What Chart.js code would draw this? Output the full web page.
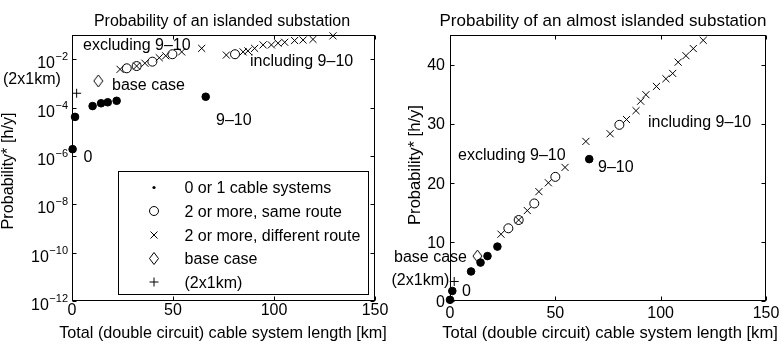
<!DOCTYPE html>
<html lang="en">
<head>
  <meta charset="UTF-8">
  <title>Probability of an (almost) islanded substation</title>
  <script src="https://cdn.jsdelivr.net/npm/chart.js"></script>
  <style>
    body { margin: 0; background: #fff; }
    .panel { position: absolute; top: 0; height: 346px; }
  </style>
</head>
<body>
<div class="panel" style="left:0;width:390px"><canvas id="islandedChart" width="390" height="346"></canvas></div>
<div class="panel" style="left:390px;width:391px"><canvas id="almostChart" width="391" height="346"></canvas></div>

<script>
  // axis ticks
  const xTicks = [0, 50, 100, 150];
  const logTickExps = [-12, -10, -8, -6, -4, -2];
  const linTicks = [0, 10, 20, 30, 40];

  // legend entries
  const seriesNames = ['0 or 1 cable systems', '2 or more, same route', '2 or more, different route', 'base case', '(2x1km)'];

  // left plot: probability of an islanded substation [h/y]
  const islOneKm = [0.3, 1.5, 10.2, 14.4, 17.7, 22.1, 66.2];
  const islOneP = [1.9e-6, 4.1e-5, 1.15e-4, 1.5e-4, 1.65e-4, 1.9e-4, 2.8e-4];
  const islSameKm = [27.1, 32, 39.8, 49.7, 80.7];
  const islSameP = [4.2e-3, 5.2e-3, 7.9e-3, 1.6e-2, 1.6e-2];
  const islDiffKm = [23.8, 32, 36.1, 43.2, 46.4, 54.3, 64.2, 76.4, 84.7, 87.1, 90.4, 94.6, 98.7, 102, 105.3, 110.2, 114.4, 119.3, 129.2];
  const islDiffP = [3.8e-3, 5.2e-3, 6.8e-3, 1.15e-2, 1.38e-2, 2.0e-2, 2.8e-2, 1.48e-2, 2.0e-2, 2.2e-2, 2.8e-2, 3.9e-2, 3.9e-2, 4.6e-2, 5.0e-2, 5.9e-2, 6.2e-2, 6.6e-2, 9.2e-2];
  const islBaseKm = [13];
  const islBaseP = [1.26e-3];
  const islShortKm = [2.3];
  const islShortP = [3.9e-4];

  // right plot: probability of an almost islanded substation [h/y]
  const almOneKm = [0, 1.1, 10, 14.5, 17.8, 22.5, 66.1];
  const almOneP = [0.2, 1.7, 5.0, 6.5, 7.6, 9.2, 24.0];
  const almSameKm = [27.7, 32.6, 40, 50, 80.4];
  const almSameP = [12.3, 13.7, 16.5, 21.0, 29.8];
  const almDiffKm = [24.2, 32.6, 36.7, 42.2, 46.7, 54.6, 64.5, 76, 83.8, 88.3, 90.5, 93, 98, 102.5, 105.7, 108.3, 112, 115.5, 120.2];
  const almDiffP = [11.3, 13.7, 15.3, 18.5, 20.0, 22.6, 27.0, 28.3, 30.7, 32.2, 33.8, 34.9, 36.3, 37.6, 38.5, 40.4, 41.5, 42.7, 44.1];
  const almBaseKm = [13];
  const almBaseP = [7.6];
  const almShortKm = [2];
  const almShortP = [3.3];

  const FONT = "'Liberation Sans', Arial, Helvetica, sans-serif";
  const TICK = 4;

  // MATLAB-like diamond is a bit taller than wide
  function diamondImage(w, h) {
    const c = document.createElement('canvas');
    c.width = w + 2;
    c.height = h + 2;
    const g = c.getContext('2d');
    g.strokeStyle = '#000';
    g.lineWidth = 1;
    g.beginPath();
    g.moveTo(c.width / 2, 1);
    g.lineTo(c.width - 1, c.height / 2);
    g.lineTo(c.width / 2, c.height - 1);
    g.lineTo(1, c.height / 2);
    g.closePath();
    g.stroke();
    return c;
  }
  const diamond = diamondImage(9, 12);

  const zip = (xs, ys) => xs.map((x, i) => ({ x: x, y: ys[i] }));

  function makeDatasets(one, same, diff, base, short) {
    const common = { showLine: false, borderColor: '#000', borderWidth: 1, clip: false };
    return [
      { ...common, label: seriesNames[0], data: one, pointStyle: 'circle', pointRadius: 3.8, backgroundColor: '#000' },
      { ...common, label: seriesNames[1], data: same, pointStyle: 'circle', pointRadius: 4.5, backgroundColor: 'rgba(0,0,0,0)' },
      { ...common, label: seriesNames[2], data: diff, pointStyle: 'crossRot', pointRadius: 5, backgroundColor: 'rgba(0,0,0,0)' },
      { ...common, label: seriesNames[3], data: base, pointStyle: diamond, pointRadius: 6, backgroundColor: 'rgba(0,0,0,0)' },
      { ...common, label: seriesNames[4], data: short, pointStyle: 'cross', pointRadius: 4.5, backgroundColor: 'rgba(0,0,0,0)' }
    ];
  }

  function text(ctx, str, x, y, align, size) {
    ctx.font = (size || 16) + 'px ' + FONT;
    ctx.textAlign = align || 'left';
    ctx.textBaseline = 'alphabetic';
    ctx.fillText(str, x, y);
  }

  function legendMarker(ctx, i, x, y) {
    ctx.beginPath();
    if (i === 0) {
      ctx.arc(x, y, 1.6, 0, 2 * Math.PI);
      ctx.fill();
      return;
    }
    if (i === 1) {
      ctx.arc(x, y, 4.5, 0, 2 * Math.PI);
    } else if (i === 2) {
      ctx.moveTo(x - 3.5, y - 3.5); ctx.lineTo(x + 3.5, y + 3.5);
      ctx.moveTo(x + 3.5, y - 3.5); ctx.lineTo(x - 3.5, y + 3.5);
    } else if (i === 3) {
      ctx.moveTo(x, y - 6); ctx.lineTo(x + 4.5, y); ctx.lineTo(x, y + 6); ctx.lineTo(x - 4.5, y); ctx.closePath();
    } else {
      ctx.moveTo(x - 4.5, y); ctx.lineTo(x + 4.5, y);
      ctx.moveTo(x, y - 4.5); ctx.lineTo(x, y + 4.5);
    }
    ctx.stroke();
  }

  // box, inward ticks, labels, annotations and legend
  const decor = {
    id: 'decor',
    beforeDatasetsDraw(chart, args, o) {
      const ctx = chart.ctx, a = chart.chartArea;
      const xs = chart.scales.x, ys = chart.scales.y;
      const L = Math.round(a.left) + 0.5, R = Math.round(a.right) - 0.5;
      const T = Math.round(a.top) + 0.5, B = Math.round(a.bottom) - 0.5;
      ctx.save();
      ctx.strokeStyle = '#000';
      ctx.lineWidth = 1;
      ctx.strokeRect(L, T, R - L, B - T);
      ctx.beginPath();
      xTicks.forEach(v => {
        const px = Math.round(xs.getPixelForValue(v)) + 0.5;
        ctx.moveTo(px, B); ctx.lineTo(px, B - TICK);
        ctx.moveTo(px, T); ctx.lineTo(px, T + TICK);
      });
      o.yTicks.forEach(v => {
        const py = Math.round(ys.getPixelForValue(v)) + 0.5;
        ctx.moveTo(L, py); ctx.lineTo(L + TICK, py);
        ctx.moveTo(R, py); ctx.lineTo(R - TICK, py);
      });
      ctx.stroke();
      ctx.restore();
    },
    afterDraw(chart, args, o) {
      const ctx = chart.ctx, a = chart.chartArea;
      const xs = chart.scales.x, ys = chart.scales.y;
      ctx.save();
      ctx.fillStyle = '#000';
      ctx.strokeStyle = '#000';
      ctx.lineWidth = 1;

      // x tick labels
      xTicks.forEach(v => text(ctx, String(v), xs.getPixelForValue(v), o.xLabelY, 'center'));

      // y tick labels
      if (o.log) {
        logTickExps.forEach(e => {
          const py = ys.getPixelForValue(Math.pow(10, e));
          const exp = '\u2212' + Math.abs(e);
          ctx.font = '11px ' + FONT;
          const we = ctx.measureText(exp).width;
          const xEnd = a.left - 4;
          text(ctx, exp, xEnd - we, py + 1, 'left', 11);
          text(ctx, '10', xEnd - we - 0.5, py + 9, 'right');
        });
      } else {
        o.yTicks.forEach(v => text(ctx, String(v), a.left - 5, ys.getPixelForValue(v) + 5.75, 'right'));
      }

      // titles
      text(ctx, o.title, o.titleX, 26, 'center', o.titleSize);
      text(ctx, 'Total (double circuit) cable system length [km]', o.xTitleX, 338, 'center', o.axisTitleSize);
      ctx.save();
      ctx.translate(o.yTitleX, o.yTitleY);
      ctx.rotate(-Math.PI / 2);
      text(ctx, 'Probability* [h/y]', 0, 0, 'center', o.axisTitleSize);
      ctx.restore();

      // annotations
      o.notes.forEach(n => text(ctx, n[0], n[1], n[2], 'left'));

      // legend
      if (o.legend) {
        ctx.fillStyle = '#fff';
        ctx.fillRect(118.5, 171.5, 250, 123);
        ctx.strokeRect(118.5, 171.5, 250, 123);
        ctx.fillStyle = '#000';
        const rows = [193, 216.5, 240.5, 264, 287.5];
        seriesNames.forEach((name, i) => {
          legendMarker(ctx, i, 154, rows[i] - 5.5);
          text(ctx, name, 184.5, rows[i], 'left');
        });
      }
      ctx.restore();
    }
  };

  function buildChart(id, datasets, yScale, leftWidth, decorOpts) {
    return new Chart(document.getElementById(id), {
      type: 'scatter',
      data: { datasets: datasets },
      options: {
        responsive: false,
        animation: false,
        events: [],
        layout: { padding: { left: 0, right: 15, top: 35, bottom: 0 } },
        plugins: {
          legend: { display: false },
          tooltip: { enabled: false },
          decor: decorOpts
        },
        scales: {
          x: {
            type: 'linear', min: 0, max: 150,
            grid: { display: false }, border: { display: false }, ticks: { display: false },
            afterBuildTicks: s => { s.ticks = xTicks.map(v => ({ value: v })); },
            afterFit: s => { s.height = 45; }
          },
          y: Object.assign({
            grid: { display: false }, border: { display: false }, ticks: { display: false },
            afterFit: s => { s.width = leftWidth; }
          }, yScale)
        }
      },
      plugins: [decor]
    });
  }

  buildChart('islandedChart',
    makeDatasets(zip(islOneKm, islOneP), zip(islSameKm, islSameP), zip(islDiffKm, islDiffP), zip(islBaseKm, islBaseP), zip(islShortKm, islShortP)),
    { type: 'logarithmic', min: 1e-12, max: 1e-1 },
    72,
    {
      log: true,
      yTicks: logTickExps.map(e => Math.pow(10, e)),
      xLabelY: 315,
      title: 'Probability of an islanded substation',
      titleX: 222,
      titleSize: 16,
      axisTitleSize: 16.2,
      xTitleX: 223,
      yTitleX: 13,
      yTitleY: 171,
      legend: true,
      notes: [
        ['excluding 9\u201310', 83, 50],
        ['including 9\u201310', 250, 66],
        ['(2x1km)', 3, 84],
        ['base case', 112, 90],
        ['9\u201310', 216, 125],
        ['0', 83.5, 162]
      ]
    });

  buildChart('almostChart',
    makeDatasets(zip(almOneKm, almOneP), zip(almSameKm, almSameP), zip(almDiffKm, almDiffP), zip(almBaseKm, almBaseP), zip(almShortKm, almShortP)),
    { type: 'linear', min: 0, max: 45 },
    60,
    {
      log: false,
      yTicks: linTicks,
      xLabelY: 318,
      title: 'Probability of an almost islanded substation',
      titleX: 213,
      titleSize: 17,
      axisTitleSize: 16.6,
      xTitleX: 220,
      yTitleX: 29.5,
      yTitleY: 165,
      legend: false,
      notes: [
        ['including 9\u201310', 258, 126.5],
        ['excluding 9\u201310', 68, 160],
        ['9\u201310', 208, 171.5],
        ['base case', 4, 261.5],
        ['(2x1km)', 1.5, 285],
        ['0', 72, 296]
      ]
    });
</script>
</body>
</html>
